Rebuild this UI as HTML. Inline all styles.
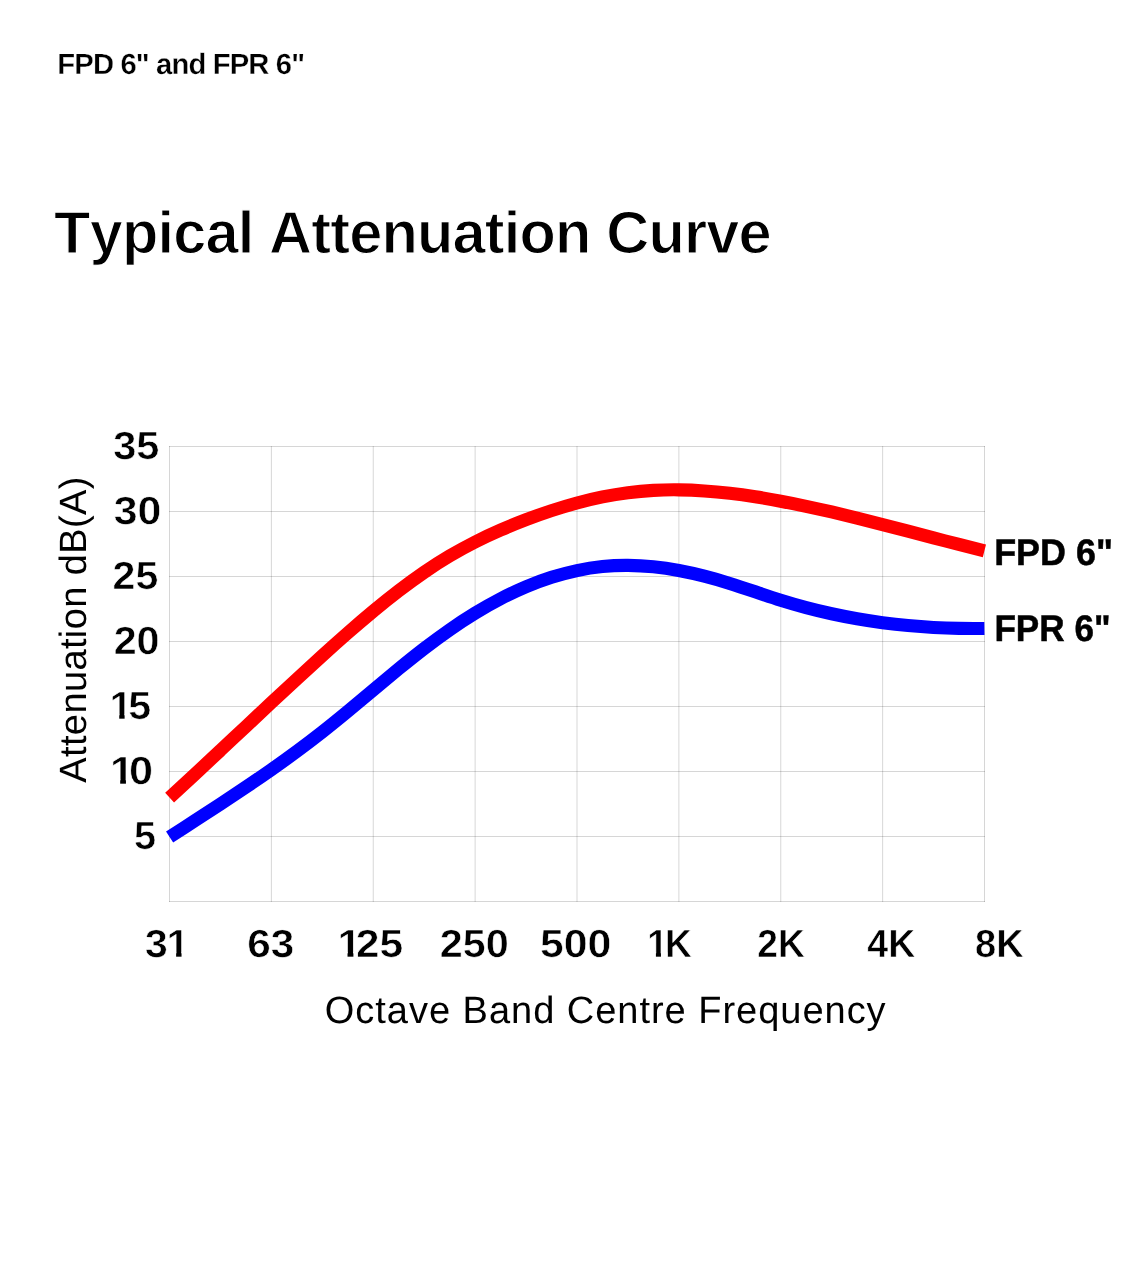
<!DOCTYPE html>
<html lang="en"><head><meta charset="utf-8"><title>Typical Attenuation Curve</title>
<style>html,body{margin:0;padding:0;background:#fff}body{width:1148px;height:1280px;overflow:hidden}svg{display:block}</style>
</head><body>
<svg width="1148" height="1280" viewBox="0 0 1148 1280">
<rect width="1148" height="1280" fill="#fff"/>
<g id="grid" stroke="#000" stroke-width="1" stroke-opacity="0.16" fill="none"><line x1="169.500" y1="446.0" x2="169.500" y2="902.0"/><line x1="271.375" y1="446.0" x2="271.375" y2="902.0"/><line x1="373.250" y1="446.0" x2="373.250" y2="902.0"/><line x1="475.125" y1="446.0" x2="475.125" y2="902.0"/><line x1="577.000" y1="446.0" x2="577.000" y2="902.0"/><line x1="678.875" y1="446.0" x2="678.875" y2="902.0"/><line x1="780.750" y1="446.0" x2="780.750" y2="902.0"/><line x1="882.625" y1="446.0" x2="882.625" y2="902.0"/><line x1="984.500" y1="446.0" x2="984.500" y2="902.0"/><line x1="169.0" y1="446.5" x2="985.0" y2="446.5"/><line x1="169.0" y1="511.5" x2="985.0" y2="511.5"/><line x1="169.0" y1="576.5" x2="985.0" y2="576.5"/><line x1="169.0" y1="641.5" x2="985.0" y2="641.5"/><line x1="169.0" y1="706.5" x2="985.0" y2="706.5"/><line x1="169.0" y1="771.5" x2="985.0" y2="771.5"/><line x1="169.0" y1="836.5" x2="985.0" y2="836.5"/><line x1="169.0" y1="901.5" x2="985.0" y2="901.5"/></g>
<path id="blue" d="M169.60 837.01C178.09 831.50 186.57 826.01 195.06 820.51C203.55 815.02 212.04 809.51 220.52 803.95C229.01 798.39 237.50 792.77 245.99 787.06C254.47 781.35 262.96 775.54 271.45 769.59C279.94 763.64 288.43 757.56 296.91 751.29C305.40 745.02 313.89 738.56 322.38 731.89C330.86 725.21 339.35 718.30 347.84 711.28C356.32 704.25 364.81 697.12 373.30 690.00C381.79 682.89 390.27 675.79 398.76 668.83C407.25 661.87 415.74 655.05 424.23 648.50C432.71 641.95 441.20 635.67 449.69 629.77C458.18 623.86 466.66 618.31 475.15 613.14C483.64 607.96 492.12 603.16 500.61 598.76C509.10 594.36 517.59 590.36 526.07 586.78C534.56 583.20 543.05 580.04 551.54 577.33C560.02 574.61 568.51 572.34 577.00 570.54C585.49 568.73 593.98 567.39 602.46 566.54C610.95 565.69 619.44 565.33 627.92 565.40C636.41 565.47 644.90 565.97 653.39 566.85C661.88 567.73 670.36 568.99 678.85 570.56C687.34 572.14 695.83 574.04 704.31 576.21C712.80 578.38 721.29 580.81 729.77 583.45C738.26 586.10 746.75 588.96 755.24 591.82C763.72 594.68 772.21 597.54 780.70 600.20C789.19 602.86 797.67 605.31 806.16 607.57C814.65 609.82 823.14 611.87 831.62 613.73C840.11 615.58 848.60 617.25 857.09 618.74C865.57 620.22 874.06 621.52 882.55 622.65C891.04 623.78 899.52 624.74 908.01 625.53C916.50 626.32 924.99 626.95 933.48 627.42C941.96 627.89 950.45 628.21 958.94 628.38C967.42 628.55 975.91 628.58 984.40 628.46" fill="none" stroke="#0000ff" stroke-width="13.1"/>
<path id="red" d="M169.60 797.62C178.09 789.83 186.57 781.98 195.06 774.08C203.55 766.19 212.04 758.25 220.52 750.30C229.01 742.34 237.50 734.37 245.99 726.41C254.47 718.44 262.96 710.49 271.45 702.57C279.94 694.65 288.43 686.76 296.91 678.94C305.40 671.11 313.89 663.34 322.38 655.66C330.86 647.97 339.35 640.38 347.84 632.94C356.32 625.50 364.81 618.21 373.30 611.16C381.79 604.11 390.27 597.30 398.76 590.78C407.25 584.27 415.74 578.06 424.23 572.23C432.71 566.40 441.20 560.96 449.69 555.94C458.18 550.92 466.66 546.30 475.15 542.00C483.64 537.71 492.12 533.76 500.61 530.06C509.10 526.37 517.59 522.94 526.07 519.71C534.56 516.48 543.05 513.45 551.54 510.65C560.02 507.85 568.51 505.28 577.00 502.98C585.49 500.67 593.98 498.64 602.46 496.91C610.95 495.18 619.44 493.75 627.92 492.66C636.41 491.57 644.90 490.81 653.39 490.36C661.88 489.90 670.36 489.75 678.85 489.85C687.34 489.96 695.83 490.32 704.31 490.91C712.80 491.50 721.29 492.31 729.77 493.31C738.26 494.30 746.75 495.48 755.24 496.81C763.72 498.13 772.21 499.60 780.70 501.19C789.19 502.78 797.67 504.49 806.16 506.29C814.65 508.09 823.14 510.00 831.62 511.97C840.11 513.95 848.60 516.00 857.09 518.10C865.57 520.21 874.06 522.36 882.55 524.55C891.04 526.73 899.52 528.95 908.01 531.17C916.50 533.40 924.99 535.63 933.48 537.85C941.96 540.06 950.45 542.27 958.94 544.43C967.42 546.60 975.91 548.73 984.40 550.80" fill="none" stroke="#ff0000" stroke-width="13.1"/>
<g font-family="'Liberation Sans', sans-serif" fill="#000" text-rendering="geometricPrecision">
<text id="hdr" x="57.37" y="74.00" font-size="29.2" font-weight="bold" textLength="247.67" lengthAdjust="spacing" stroke="#fff" stroke-width="0.3" style="font-kerning:none">FPD 6&quot; and FPR 6&quot;</text>
<text id="ttl" x="54.12" y="253.00" font-size="59.5" font-weight="bold" textLength="717.59" lengthAdjust="spacing" stroke="#fff" stroke-width="1.2" style="font-kerning:none">Typical Attenuation Curve</text>
<text id="y35" x="113.22" y="459.00" font-size="39.2" font-weight="bold" textLength="46.25" lengthAdjust="spacingAndGlyphs" stroke="#fff" stroke-width="0.55">35</text>
<text id="y30" x="113.80" y="524.00" font-size="39.2" font-weight="bold" textLength="47.62" lengthAdjust="spacingAndGlyphs" stroke="#fff" stroke-width="0.55">30</text>
<text id="y25" x="112.63" y="589.00" font-size="39.2" font-weight="bold" textLength="45.75" lengthAdjust="spacingAndGlyphs" stroke="#fff" stroke-width="0.55">25</text>
<text id="y20" x="113.66" y="654.00" font-size="39.2" font-weight="bold" textLength="45.91" lengthAdjust="spacingAndGlyphs" stroke="#fff" stroke-width="0.55">20</text>
<text id="y15" x="109.52" y="719.00" font-size="39.2" font-weight="bold" textLength="41.55" lengthAdjust="spacingAndGlyphs" stroke="#fff" stroke-width="0.55">1<tspan dx="-4.09">5</tspan></text>
<text id="y10" x="110.05" y="784.00" font-size="39.2" font-weight="bold" textLength="43.07" lengthAdjust="spacingAndGlyphs" stroke="#fff" stroke-width="0.55">1<tspan dx="-4.53">0</tspan></text>
<text id="y5" x="133.96" y="849.00" font-size="39.2" font-weight="bold" textLength="22.07" lengthAdjust="spacingAndGlyphs" stroke="#fff" stroke-width="0.55">5</text>
<text id="x31" x="145.09" y="957.00" font-size="39.2" font-weight="bold" textLength="44.22" lengthAdjust="spacingAndGlyphs" stroke="#fff" stroke-width="0.55">3<tspan dx="-1.26">1</tspan></text>
<text id="x63" x="247.16" y="957.00" font-size="39.2" font-weight="bold" textLength="47.10" lengthAdjust="spacingAndGlyphs" stroke="#fff" stroke-width="0.55">63</text>
<text id="x125" x="337.63" y="957.00" font-size="39.2" font-weight="bold" textLength="65.57" lengthAdjust="spacingAndGlyphs" stroke="#fff" stroke-width="0.55">1<tspan dx="-5.10">25</tspan></text>
<text id="x250" x="439.77" y="957.00" font-size="39.2" font-weight="bold" textLength="69.04" lengthAdjust="spacingAndGlyphs" stroke="#fff" stroke-width="0.55">250</text>
<text id="x500" x="539.92" y="957.00" font-size="39.2" font-weight="bold" textLength="71.45" lengthAdjust="spacingAndGlyphs" stroke="#fff" stroke-width="0.55">500</text>
<text id="x1k" x="647.22" y="957.00" font-size="39.2" font-weight="bold" textLength="44.69" lengthAdjust="spacingAndGlyphs" stroke="#fff" stroke-width="0.55">1<tspan dx="-2.90">K</tspan></text>
<text id="x2k" x="757.29" y="957.00" font-size="39.2" font-weight="bold" textLength="47.51" lengthAdjust="spacingAndGlyphs" stroke="#fff" stroke-width="0.55">2K</text>
<text id="x4k" x="867.32" y="957.00" font-size="39.2" font-weight="bold" textLength="47.99" lengthAdjust="spacingAndGlyphs" stroke="#fff" stroke-width="0.55">4K</text>
<text id="x8k" x="975.00" y="957.00" font-size="39.2" font-weight="bold" textLength="48.60" lengthAdjust="spacingAndGlyphs" stroke="#fff" stroke-width="0.55">8K</text>
<text id="lfpd" x="994.18" y="565.00" font-size="37" font-weight="bold" textLength="118.84" lengthAdjust="spacingAndGlyphs" stroke="#000" stroke-width="0.5">FPD 6&quot;</text>
<text id="lfpr" x="994.38" y="641.00" font-size="37" font-weight="bold" textLength="116.21" lengthAdjust="spacingAndGlyphs" stroke="#000" stroke-width="0.5">FPR 6&quot;</text>
<text id="xt" x="324.82" y="1023.00" font-size="38" font-weight="normal" textLength="560.79" lengthAdjust="spacing">Octave Band Centre Frequency</text>
<text id="yt" transform="translate(86.30 782.73) rotate(-90)" font-size="38" font-weight="normal" textLength="306.04" lengthAdjust="spacing">Attenuation dB(A)</text>
</g>
<g id="feet" fill="#fff"><rect x="111.17" y="714.30" width="8.07" height="5.90"/><rect x="124.61" y="714.30" width="6.78" height="5.90"/><rect x="111.66" y="779.30" width="8.53" height="5.90"/><rect x="125.94" y="779.30" width="7.20" height="5.90"/><rect x="168.02" y="952.30" width="8.11" height="5.90"/><rect x="181.54" y="952.30" width="7.61" height="5.90"/><rect x="338.80" y="952.30" width="8.71" height="5.90"/><rect x="353.40" y="952.30" width="4.38" height="5.90"/><rect x="648.26" y="952.30" width="7.65" height="5.90"/><rect x="660.95" y="952.30" width="6.39" height="5.90"/></g>
</svg>
</body></html>
